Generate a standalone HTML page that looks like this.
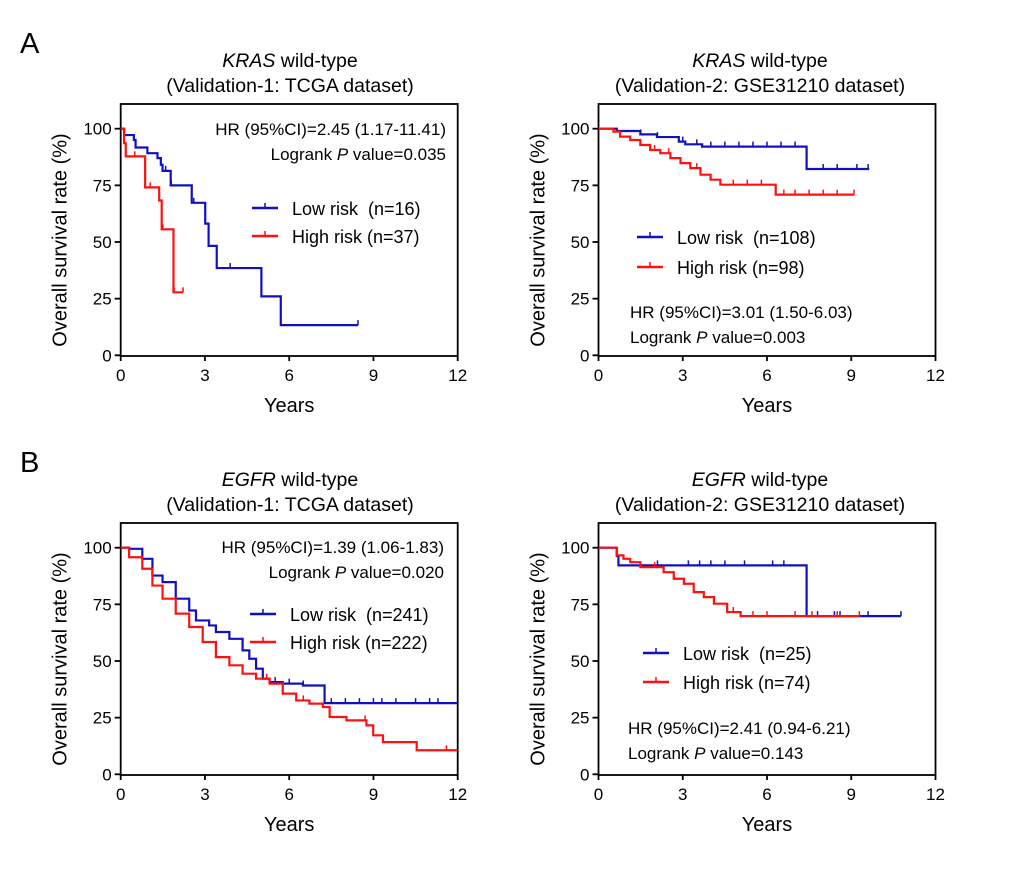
<!DOCTYPE html>
<html><head><meta charset="utf-8"><style>
html,body{margin:0;padding:0;background:#fff;}
svg text{font-family:"Liberation Sans",Arial,sans-serif;fill:#000;}
</style></head><body>
<svg id="fig" width="1020" height="876" viewBox="0 0 1020 876" xmlns="http://www.w3.org/2000/svg"></svg>
<script>
// ---- data ----
const xTicks = [0,3,6,9,12];
const yTicks = [0,25,50,75,100];
// Panel A left (KRAS, TCGA)
const aLowX  = [0,0.12,0.47,0.53,0.95,1.31,1.43,1.49,1.78,2.53,3.01,3.13,3.42,5.01,5.70,8.45];
const aLowY  = [100,97.2,95.0,91.7,89.2,87.0,84.1,81.4,75.0,67.3,58.1,48.3,38.5,26.0,13.3,13.3];
const aHighX = [0,0.12,0.18,0.87,1.37,1.46,1.88,2.22];
const aHighY = [100,93.6,87.8,74.1,68.3,55.6,27.8,27.8];
// Panel A right (KRAS, GSE31210)
const bLowX  = [0,0.65,1.49,2.08,2.86,3.09,3.69,7.41,9.64];
const bLowY  = [100,99.0,97.5,96.3,94.3,93.1,92.1,82.2,82.2];
const bHighX = [0,0.53,0.77,1.13,1.49,1.84,2.20,2.56,2.92,3.27,3.63,3.99,4.34,4.70,6.31,9.11];
const bHighY = [100,98.7,96.5,95.0,92.8,90.6,89.2,87.0,84.8,82.6,79.7,77.5,75.3,75.3,70.9,70.9];
// Panel B left (EGFR, TCGA)
const cLowX  = [0,0.30,0.77,1.13,1.49,1.96,2.44,2.68,3.15,3.39,3.87,4.34,4.58,4.82,5.06,5.30,5.77,6.49,7.26,12];
const cLowY  = [100,99.5,95.1,87.7,84.8,77.5,72.3,67.9,65.7,62.8,59.8,54.7,51.0,46.6,42.2,40.7,40.0,39.2,31.4,31.4];
const cHighX = [0,0.30,0.77,1.13,1.49,1.96,2.44,2.92,3.39,3.87,4.34,4.82,5.30,5.77,6.25,6.72,7.20,7.44,8.04,8.75,8.99,9.34,10.54,12];
const cHighY = [100,95.8,90.7,83.3,77.5,70.9,65.0,58.4,51.7,48.1,44.4,42.2,40.0,35.6,32.6,31.2,29.7,25.3,23.8,21.6,17.2,14.2,10.6,10.6];
// Panel B right (EGFR, GSE31210)
const dLowX  = [0,0.65,0.71,7.41,10.77];
const dLowY  = [100,96.3,92.2,69.8,69.8];
const dHighX = [0,0.65,0.89,1.13,1.49,2.32,2.68,3.04,3.39,3.75,4.11,4.58,5.06,5.12,9.29];
const dHighY = [100,96.6,95.1,93.6,91.4,89.2,86.3,84.1,80.4,78.2,75.3,71.6,69.8,69.8,69.8];
// censor marks (x positions)
const aLowC = [0.95,1.6,1.8,2.6,3.9,8.45];
const aHighC = [0.5,1.05,1.5,1.9,2.22];
const bLowC = [1.5,2.1,3.0,3.5,4.0,4.5,5.0,5.5,6.0,6.5,7.0,8.0,8.5,9.2,9.6];
const bHighC = [2.0,2.5,3.5,4.0,4.8,5.3,5.8,6.6,7.0,7.5,8.0,8.5,9.1];
const cLowC = [5.5,6.0,6.5,7.5,8.0,8.5,9.0,9.3,9.8,10.5,11.0,11.3];
const cHighC = [5.2,6.5,8.7,11.6];
const dLowC = [2.1,3.2,3.6,4.0,4.5,5.2,6.2,6.6,7.8,8.4,8.6,9.6,10.77];
const dHighC = [1.5,2.0,4.8,5.5,6.0,7.0,7.6,8.5,9.29];

const NS='http://www.w3.org/2000/svg';
const svg=document.getElementById('fig');
function mk(tag,attrs,parent){const e=document.createElementNS(NS,tag);for(const k in attrs)e.setAttribute(k,attrs[k]);(parent||svg).appendChild(e);return e;}
function txt(x,y,s,size,anchor,parent){const t=mk('text',{x:x,y:y,'font-size':size,'text-anchor':anchor||'start'},parent);t.innerHTML=s;return t;}

function panel(p){
  const g=mk('g',{});
  
  
  const L=p.left,R=p.left+337,T=p.top,B=p.top+252;
  const sx=v=>L+v/12*(R-L);
  const y0=B-0.7, y100=p.top+24.7;
  const sy=v=>y0+(y100-y0)*v/100;
  // title
  const t1=txt(p.tcx,p.top-37,'<tspan font-style="italic">'+p.gene+'</tspan> wild-type',19.5,'middle',g);
  
  
  const t2=txt(p.tcx,p.top-12,p.sub,19.5,'middle',g);
  
  
  // box
  const box=mk('rect',{x:L,y:T,width:R-L,height:B-T,fill:'none',stroke:'#000','stroke-width':1.8},g);
  
  
  // ticks
  xTicks.forEach(v=>{
    mk('line',{x1:sx(v),x2:sx(v),y1:B,y2:B+5,stroke:'#000','stroke-width':1.8},g);
    const tl=txt(sx(v),B+25,String(v),17,'middle',g);
    
    
  });
  yTicks.forEach(v=>{
    mk('line',{x1:L-6,x2:L,y1:sy(v),y2:sy(v),stroke:'#000','stroke-width':1.8},g);
    const tl=txt(L-9,sy(v)+6,String(v),17,'end',g);
    
    
  });
  const xt=txt((L+R)/2,B+56,'Years',20,'middle',g);
  
  
  const yt=txt(0,0,'Overall survival rate (%)',20,'middle',g);
  yt.setAttribute('transform','translate('+(L-54)+','+(T+136)+') rotate(-90)');
  
  
  // curves
  p.series.forEach(s=>{
    let d='M'+sx(s.x[0])+','+sy(s.y[0]);
    for(let i=1;i<s.x.length;i++){d+=' H'+sx(s.x[i])+' V'+sy(s.y[i]);}
    const path=mk('path',{d:d,fill:'none',stroke:s.color,'stroke-width':2.2},g);
    
    
    s.c.forEach(cx=>{
      let yv=s.y[0];
      for(let i=0;i<s.x.length;i++){if(s.x[i]<=cx)yv=s.y[i];}
      const m=mk('line',{x1:sx(cx),x2:sx(cx),y1:sy(yv),y2:sy(yv)-5,stroke:s.color,'stroke-width':1.5},g);
      
      
    });
  });
  // legend
  p.legend.forEach((lg,i)=>{
    const ly=p.legY+i*p.legGap;
    const ll=mk('line',{x1:p.legX,x2:p.legX+26,y1:ly,y2:ly,stroke:lg.color,'stroke-width':2.5},g);
    
    
    mk('line',{x1:p.legX+13,x2:p.legX+13,y1:ly,y2:ly-5,stroke:lg.color,'stroke-width':1.5},g);
    const lt=txt(p.legX+40,ly+7,lg.text,18,'start',g);
    
    
  });
  const h1=txt(p.hrX,p.hrY,p.hr,17,p.hrAnchor,g);
  
  
  const h2=txt(p.hrX,p.hrY+25,'Logrank <tspan font-style="italic">P</tspan> value='+p.p,17,p.hrAnchor,g);
  
  
}

const BLUE='#1010c0', RED='#ff1010';
panel({name:'kras-tcga-chart',left:120.7,top:104,tcx:290,gene:'KRAS',sub:'(Validation-1: TCGA dataset)',
  series:[{x:aLowX,y:aLowY,c:aLowC,color:BLUE,label:'low-risk-curve'},{x:aHighX,y:aHighY,c:aHighC,color:RED,label:'high-risk-curve'}],
  legend:[{color:BLUE,text:'Low risk&#160;&#160;(n=16)'},{color:RED,text:'High risk (n=37)'}],
  legX:252,legY:208,legGap:28,hr:'HR (95%CI)=2.45 (1.17-11.41)',p:'0.035',hrX:446,hrY:135,hrAnchor:'end'});
panel({name:'kras-gse31210-chart',left:598.5,top:104,tcx:760,gene:'KRAS',sub:'(Validation-2: GSE31210 dataset)',
  series:[{x:bLowX,y:bLowY,c:bLowC,color:BLUE,label:'low-risk-curve'},{x:bHighX,y:bHighY,c:bHighC,color:RED,label:'high-risk-curve'}],
  legend:[{color:BLUE,text:'Low risk&#160;&#160;(n=108)'},{color:RED,text:'High risk (n=98)'}],
  legX:637,legY:237,legGap:30,hr:'HR (95%CI)=3.01 (1.50-6.03)',p:'0.003',hrX:630,hrY:318,hrAnchor:'start'});
panel({name:'egfr-tcga-chart',left:120.7,top:523,tcx:290,gene:'EGFR',sub:'(Validation-1: TCGA dataset)',
  series:[{x:cLowX,y:cLowY,c:cLowC,color:BLUE,label:'low-risk-curve'},{x:cHighX,y:cHighY,c:cHighC,color:RED,label:'high-risk-curve'}],
  legend:[{color:BLUE,text:'Low risk&#160;&#160;(n=241)'},{color:RED,text:'High risk (n=222)'}],
  legX:250,legY:614,legGap:28,hr:'HR (95%CI)=1.39 (1.06-1.83)',p:'0.020',hrX:444,hrY:553,hrAnchor:'end'});
panel({name:'egfr-gse31210-chart',left:598.5,top:523,tcx:760,gene:'EGFR',sub:'(Validation-2: GSE31210 dataset)',
  series:[{x:dLowX,y:dLowY,c:dLowC,color:BLUE,label:'low-risk-curve'},{x:dHighX,y:dHighY,c:dHighC,color:RED,label:'high-risk-curve'}],
  legend:[{color:BLUE,text:'Low risk&#160;&#160;(n=25)'},{color:RED,text:'High risk (n=74)'}],
  legX:643,legY:653,legGap:29,hr:'HR (95%CI)=2.41 (0.94-6.21)',p:'0.143',hrX:628,hrY:734,hrAnchor:'start'});

const la=txt(20,53,'A',29,'start');


const lb=txt(20,472,'B',29,'start');


</script>
</body></html>
